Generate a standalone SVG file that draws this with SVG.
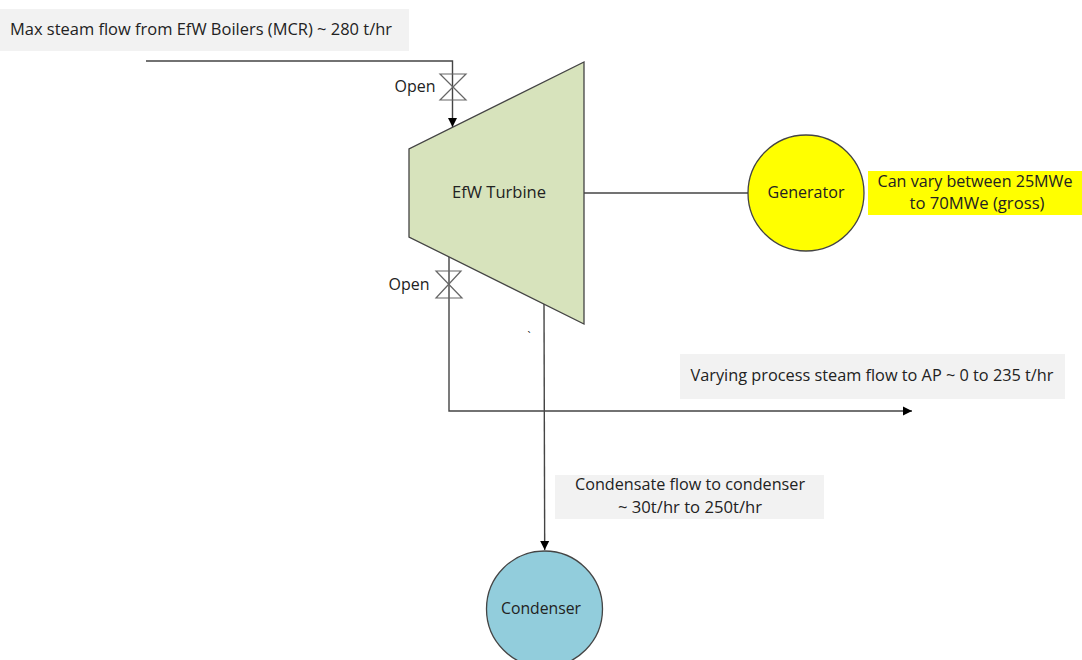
<svg xmlns="http://www.w3.org/2000/svg" width="1082" height="660" viewBox="0 0 1082 660">
<style>
text{font-family:"Open Sans","Noto Sans","Liberation Sans",sans-serif;font-size:16px;fill:#222;text-anchor:middle}
.c{fill:none;stroke:#444;stroke-width:1.4}
.v{fill:none;stroke:#666;stroke-width:1.2}
.n{stroke:#444;stroke-width:1.3}
.g{fill:#f2f2f2}
</style>
<defs><marker id="a" markerUnits="userSpaceOnUse" markerWidth="10" markerHeight="10" refX="9" refY="5" orient="auto"><path d="M0 0.5L9 5L0 9.500Z" fill="#000"/></marker></defs>
<rect width="1082" height="660" fill="#fff"/>
<g id="labels">
<rect class="g" x="0" y="9" width="409" height="42"/>
<text x="201" y="35" textLength="382" lengthAdjust="spacingAndGlyphs">Max steam flow from EfW Boilers (MCR) ~ 280 t/hr</text>
<rect class="g" x="680" y="354" width="385" height="45"/>
<text x="872" y="381" textLength="363" lengthAdjust="spacingAndGlyphs">Varying process steam flow to AP ~ 0 to 235 t/hr</text>
<rect class="g" x="555" y="475" width="269" height="44"/>
<text x="690" y="490" textLength="230" lengthAdjust="spacingAndGlyphs">Condensate flow to condenser</text>
<text x="690" y="513" textLength="144" lengthAdjust="spacingAndGlyphs">~ 30t/hr to 250t/hr</text>
<rect x="868" y="171" width="214" height="44" fill="#ffff00"/>
<text x="975" y="187" textLength="195" lengthAdjust="spacingAndGlyphs">Can vary between 25MWe</text>
<text x="977" y="209" textLength="135" lengthAdjust="spacingAndGlyphs">to 70MWe (gross)</text>
<text x="415" y="92" textLength="41" lengthAdjust="spacingAndGlyphs">Open</text>
<text x="409" y="290" textLength="41" lengthAdjust="spacingAndGlyphs">Open</text>
<text x="529" y="340" style="font-size:11px">`</text>
</g>
<g id="connectors">
<path class="c" d="M146 61H452.500V127" marker-end="url(#a)"/>
<path class="c" d="M449 256V411H912" marker-end="url(#a)"/>
<path class="c" d="M544 303L544.700 550" marker-end="url(#a)"/>
<path class="c" d="M584 193H748"/>
</g>
<g id="turbine">
<path class="n" d="M584 62V324L409 237V149Z" fill="#d7e3bc"/>
<text x="499" y="198" textLength="94" lengthAdjust="spacingAndGlyphs">EfW Turbine</text>
</g>
<g id="valve-top"><path class="v" d="M440 74H466L440 100H466Z"/></g>
<g id="valve-bottom"><path class="v" d="M436 271H461L436 298H462Z"/></g>
<g id="generator">
<circle class="n" cx="806" cy="193" r="58" fill="#ffff00"/>
<text x="806" y="198" textLength="77" lengthAdjust="spacingAndGlyphs">Generator</text>
</g>
<g id="condenser">
<circle class="n" cx="544.500" cy="609" r="58" fill="#92cddc"/>
<text x="541" y="614" textLength="80" lengthAdjust="spacingAndGlyphs">Condenser</text>
</g>
</svg>
